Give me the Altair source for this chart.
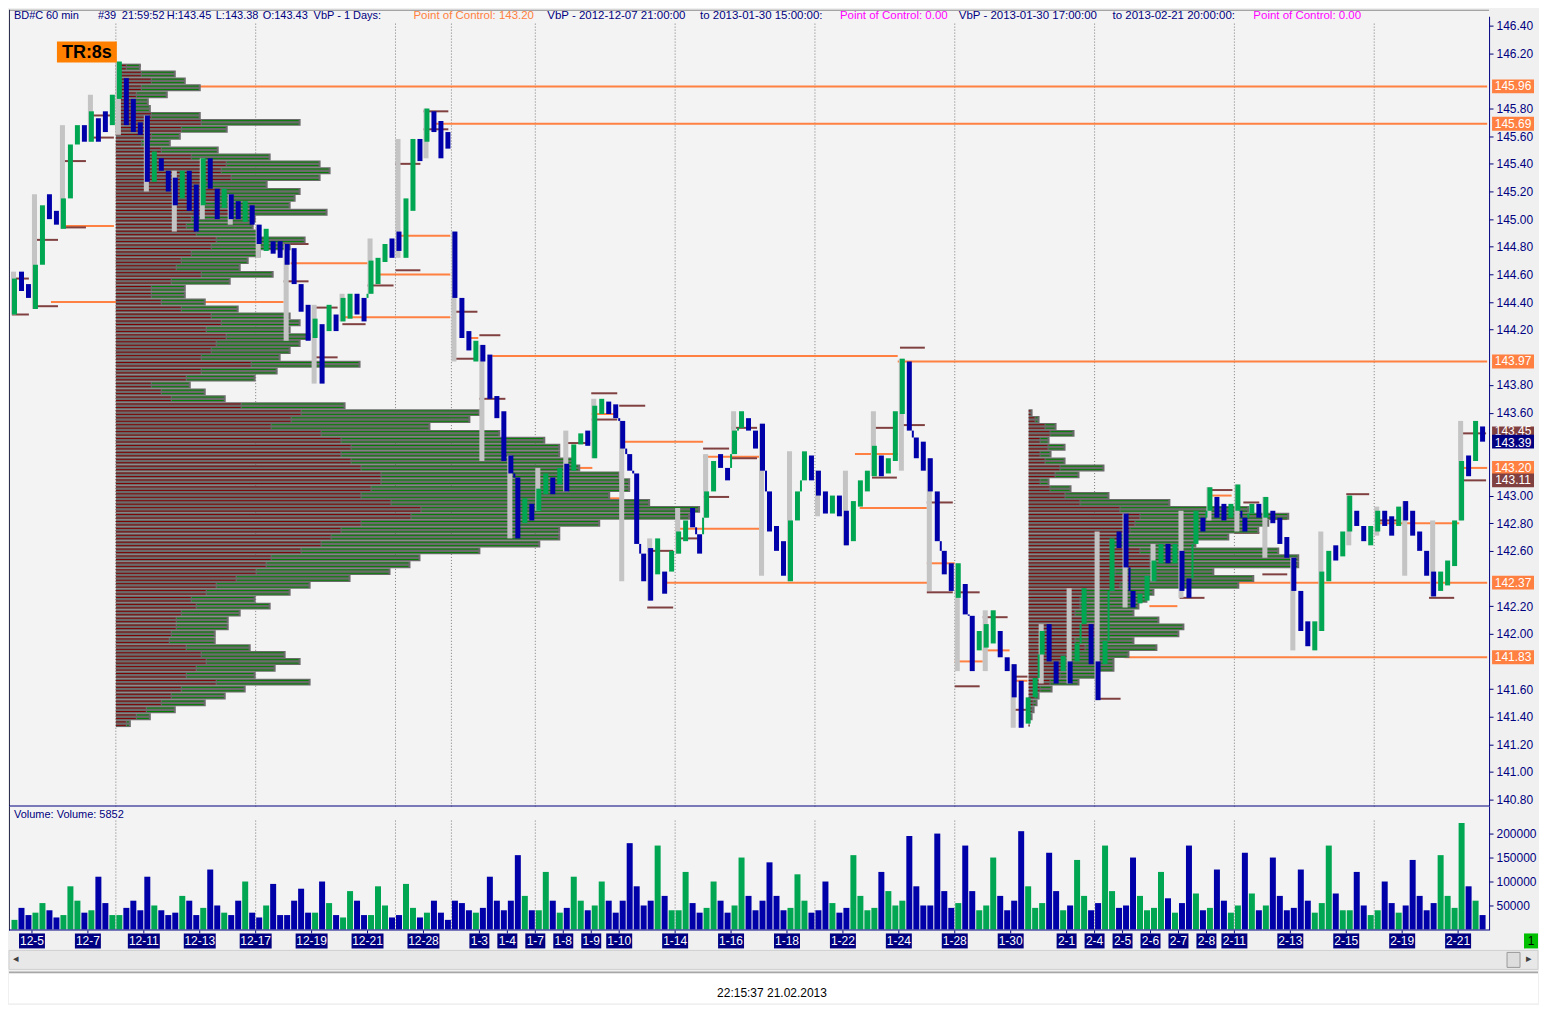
import altair as alt
import pandas as pd

FONT = "Liberation Sans"
NAVY = "#000080"
UPC = "#00A651"
DNC = "#0000A8"
ORANGE = "#FF8040"
BROWN = "#804040"
PROF_GRAY = "#6B6B6B"
PROF_RED = "#800000"
PROF_GREEN = "#008000"
MINI_GRAY = "#C4C4C4"
MAGENTA = "#FF00FF"

# ------------------------------------------------------------------ data
# price path, quarter-day slots (slot k centred on day index -0.625 + 0.25 k)
slot_high = [
    144.57, 144.62, 144.53, 144.67, 145.10, 145.18, 145.06, 145.15, 145.54, 145.68,
    145.68, 145.78, 145.73, 145.78, 145.90, 146.14, 146.02, 145.87, 145.70, 145.75,
    145.49, 145.44, 145.35, 145.30, 145.35, 145.35, 145.25, 145.44, 145.44, 145.22,
    145.22, 145.18, 145.13, 145.13, 145.10, 144.96, 144.93, 144.84, 144.84, 144.82,
    144.79, 144.53, 144.38, 144.28, 144.24, 144.38, 144.31, 144.43, 144.46, 144.46,
    144.43, 144.70, 144.72, 144.82, 144.86, 144.91, 145.15, 145.58, 145.58, 145.80,
    145.78, 145.71, 145.63, 144.91, 144.43, 144.19, 144.12, 144.09, 144.02, 143.72,
    143.61, 143.29, 143.13, 142.98, 142.94, 143.05, 143.16, 143.13, 143.20, 143.23,
    143.37, 143.45, 143.47, 143.65, 143.70, 143.68, 143.66, 143.54, 143.30, 143.16,
    142.58, 142.62, 142.69, 142.45, 142.60, 142.74, 142.82, 142.91, 142.72, 143.03,
    143.25, 143.30, 143.20, 143.47, 143.61, 143.56, 143.47, 143.52, 143.03, 142.78,
    142.67, 142.82, 143.03, 143.32, 143.29, 143.18, 143.03, 143.00, 143.00, 142.89,
    142.96, 143.11, 143.18, 143.36, 143.29, 143.27, 143.61, 143.99, 143.97, 143.42,
    143.39, 143.27, 143.03, 142.60, 142.51, 142.51, 142.36, 142.13, 142.02, 142.07,
    142.17, 142.02, 141.83, 141.78, 141.66, 141.54, 141.68, 142.02, 142.07, 141.80,
    141.84, 141.80, 141.93, 142.33, 142.07, 141.80, 141.95, 142.69, 142.74, 142.87,
    142.31, 142.29, 142.42, 142.53, 142.65, 142.65, 142.65, 142.60, 142.40, 142.89,
    142.84, 143.06, 142.99, 142.94, 142.94, 143.08, 142.84, 142.94, 142.94, 142.99,
    142.89, 142.84, 142.70, 142.55, 142.31, 142.09, 142.09, 142.45, 142.60, 142.64,
    142.74, 143.00, 142.89, 142.78, 142.78, 142.89, 142.89, 142.85, 142.92, 142.96,
    142.89, 142.74, 142.60, 142.45, 142.45, 142.53, 142.82, 143.25, 143.29, 143.54,
    143.50,
]
slot_low = [
    144.31, 144.48, 144.43, 144.35, 144.67, 145.00, 144.96, 144.93, 145.15, 145.54,
    145.56, 145.56, 145.56, 145.63, 145.68, 145.87, 145.68, 145.63, 145.61, 145.27,
    145.27, 145.35, 145.20, 145.10, 145.15, 145.06, 144.91, 145.10, 145.22, 145.00,
    145.08, 145.00, 145.00, 144.98, 144.96, 144.82, 144.77, 144.75, 144.72, 144.67,
    144.53, 144.33, 144.12, 144.14, 143.81, 144.19, 144.19, 144.26, 144.28, 144.31,
    144.26, 144.46, 144.53, 144.69, 144.72, 144.77, 144.72, 145.06, 145.42, 145.56,
    145.63, 145.44, 145.51, 144.43, 144.14, 144.05, 143.97, 143.97, 143.70, 143.56,
    143.25, 143.16, 142.69, 142.80, 142.82, 142.89, 143.01, 143.01, 143.08, 143.03,
    143.18, 143.37, 143.36, 143.27, 143.59, 143.59, 143.56, 143.34, 143.18, 142.65,
    142.38, 142.24, 142.43, 142.29, 142.45, 142.58, 142.67, 142.77, 142.58, 142.84,
    143.03, 143.20, 143.11, 143.30, 143.49, 143.47, 143.34, 143.18, 142.74, 142.60,
    142.42, 142.38, 142.82, 143.11, 143.11, 143.00, 142.87, 142.87, 142.85, 142.64,
    142.67, 142.92, 143.03, 143.14, 143.14, 143.16, 143.25, 143.59, 143.47, 143.27,
    143.18, 143.03, 142.67, 142.43, 142.31, 142.26, 142.14, 141.73, 141.88, 141.90,
    141.93, 141.83, 141.73, 141.54, 141.32, 141.35, 141.54, 141.85, 141.80, 141.64,
    141.73, 141.64, 141.80, 142.07, 141.78, 141.52, 141.78, 142.31, 142.62, 142.48,
    142.19, 142.22, 142.24, 142.38, 142.51, 142.51, 142.51, 142.31, 142.26, 142.65,
    142.74, 142.89, 142.84, 142.82, 142.84, 142.89, 142.74, 142.87, 142.84, 142.84,
    142.80, 142.65, 142.55, 142.31, 142.02, 141.91, 141.88, 142.02, 142.38, 142.53,
    142.56, 142.74, 142.78, 142.67, 142.64, 142.74, 142.78, 142.71, 142.78, 142.82,
    142.71, 142.60, 142.42, 142.27, 142.31, 142.35, 142.49, 142.82, 143.14, 143.25,
    143.39,
]
slot_dir = (
    "udduudduuu" "dudduudddd" "uddduddudd" "uddudduddd" "dddududuud"
    "duuudduudu" "dddddduddd" "ddduduudud" "uuduuddddd" "dduduuuddu"
    "udduuddddd" "duuudddudd" "uuuuduuudd" "dddddudduu" "udddduuudd"
    "uduudduudd" "duuuududdu" "dudduududu" "dddddduuud" "uudduuddud"
    "dddduuuudu" "d"
)
# slot that opens with a price gap (new year session) - no connector drawn
gap_slots = [63]
# hourly volume aggregated per slot, thousands of contracts
slot_volume_k = [
    20, 45, 30,
    35, 55, 40, 25,   30, 90, 60, 35,   40, 110, 55, 30,   30, 45, 60, 40,
    110, 50, 40, 30,  35, 70, 60, 30,   45, 125, 50, 35,   30, 60, 100, 35,
    25, 50, 95, 30,   30, 60, 85, 35,   35, 100, 55, 30,   25, 80, 60, 30,
    30, 90, 50, 25,   30, 95, 45, 25,   35, 60, 35, 20,   60, 55, 40, 35,
    45, 110, 60, 40,  60, 155, 70, 40,  40, 120, 60, 35,  45, 110, 60, 40,
    50, 100, 60, 35,  60, 180, 90, 50,  60, 175, 70, 40,  40, 120, 55, 35,
    45, 100, 60, 35,  50, 150, 70, 40,  60, 140, 70, 40,  45, 115, 60, 35,
    40, 100, 55, 35,  45, 155, 70, 40,  45, 120, 80, 50,  60, 195, 90, 50,
    50, 200, 80, 45,  55, 175, 80, 40,  50, 150, 70, 40,  60, 205, 90, 45,
    55, 160, 80, 40,  50, 145, 70, 40,  55, 175, 80, 45,  50, 150, 70, 40,
    45, 120, 65, 35,  55, 175, 75, 40,  45, 125, 60, 35,  50, 160, 75, 40,
    50, 150, 70, 40,  45, 125, 60, 35,  55, 175, 75, 40,  40, 120, 50, 30,
    40, 100, 55, 35,  50, 145, 70, 40,  55, 155, 70, 45,  222, 90, 60, 30,
]

# volume profile 1 (from 2012-12-07 21:00), rows of 0.05
profile1_levels = [
    146.10, 146.05, 146.00, 145.95, 145.90, 145.85, 145.80, 145.75, 145.70, 145.65,
    145.60, 145.55, 145.50, 145.45, 145.40, 145.35, 145.30, 145.25, 145.20, 145.15,
    145.10, 145.05, 145.00, 144.95, 144.90, 144.85, 144.80, 144.75, 144.70, 144.65,
    144.60, 144.55, 144.50, 144.45, 144.40, 144.35, 144.30, 144.25, 144.20, 144.15,
    144.10, 144.05, 144.00, 143.95, 143.90, 143.85, 143.80, 143.75, 143.70, 143.65,
    143.60, 143.55, 143.50, 143.45, 143.40, 143.35, 143.30, 143.25, 143.20, 143.15,
    143.10, 143.05, 143.00, 142.95, 142.90, 142.85, 142.80, 142.75, 142.70, 142.65,
    142.60, 142.55, 142.50, 142.45, 142.40, 142.35, 142.30, 142.25, 142.20, 142.15,
    142.10, 142.05, 142.00, 141.95, 141.90, 141.85, 141.80, 141.75, 141.70, 141.65,
    141.60, 141.55, 141.50, 141.45, 141.40, 141.35,
]
profile1_volume = [
    25, 60, 70, 85, 52, 33, 35, 85, 185, 112,
    65, 55, 103, 155, 205, 215, 205, 152, 185, 180,
    175, 212, 140, 138, 145, 190, 175, 145, 133, 125,
    158, 115, 70, 70, 90, 123, 175, 185, 175, 195,
    185, 175, 165, 245, 162, 140, 75, 90, 110, 230,
    365, 355, 315, 385, 430, 445, 445, 460, 465, 505,
    515, 515, 495, 535, 585, 575, 485, 445, 445, 425,
    365, 305, 295, 275, 235, 195, 175, 140, 155, 125,
    113, 113, 100, 100, 135, 170, 185, 160, 140, 195,
    130, 110, 90, 60, 35, 15,
]
profile1_down = [
    10, 25, 35, 25, 20, 15, 15, 35, 85, 65,
    35, 25, 45, 75, 110, 105, 115, 85, 105, 100,
    85, 115, 75, 70, 80, 100, 95, 75, 65, 60,
    85, 55, 35, 35, 45, 65, 95, 105, 90, 110,
    100, 95, 85, 135, 85, 70, 35, 45, 55, 125,
    185, 175, 155, 205, 225, 235, 225, 235, 245, 265,
    265, 255, 245, 275, 305, 295, 245, 225, 215, 205,
    185, 155, 150, 140, 120, 100, 90, 75, 80, 65,
    60, 60, 55, 53, 70, 85, 90, 80, 70, 100,
    65, 55, 45, 30, 20, 10,
]
# volume profile 2 (from 2013-01-30 17:00)
profile2_levels = [
    143.60, 143.55, 143.50, 143.45, 143.40, 143.35, 143.30, 143.25, 143.20, 143.15,
    143.10, 143.05, 143.00, 142.95, 142.90, 142.85, 142.80, 142.75, 142.70, 142.65,
    142.60, 142.55, 142.50, 142.45, 142.40, 142.35, 142.30, 142.25, 142.20, 142.15,
    142.10, 142.05, 142.00, 141.95, 141.90, 141.85, 141.80, 141.75, 141.70, 141.65,
    141.60, 141.55, 141.50, 141.45, 141.40, 141.35,
]
profile2_volume = [
    4, 11, 28, 46, 21, 37, 23, 37, 76, 51,
    21, 43, 81, 142, 221, 261, 241, 231, 201, 168,
    251, 271, 271, 186, 226, 211, 126, 119, 111, 106,
    131, 156, 151, 106, 129, 101, 86, 86, 71, 51,
    24, 11, 9, 6, 4, 1,
]
profile2_down = [
    2, 6, 16, 21, 11, 19, 11, 16, 31, 26,
    11, 21, 36, 51, 91, 111, 106, 101, 91, 81,
    111, 121, 121, 86, 101, 91, 56, 51, 51, 46,
    56, 66, 66, 46, 56, 41, 36, 36, 31, 21,
    11, 6, 4, 3, 2, 1,
]

# point-of-control lines: price, from day, to day
poc_price = [145.96, 145.69, 143.97, 144.01, 142.37, 142.37, 141.83, 143.20, 144.95, 144.40,
             144.68, 144.88, 144.60, 144.29, 143.39, 143.59, 143.20, 142.98, 143.28, 142.76,
             143.30, 142.91, 142.51, 141.80, 141.88, 141.66, 142.20, 143.00, 142.80, 144.14]
poc_from = [3.00, 14.36, 30.96, 16.46, 22.64, 42.93, 39.07, 51.14, 1.11, 0.68,
            9.25, 13.07, 12.36, 11.14, 21.04, 20.00, 19.14, 20.32, 24.00, 23.00,
            29.43, 29.60, 32.00, 33.00, 34.00, 35.07, 39.96, 42.20, 48.20, 15.57]
poc_to = [52.04, 52.04, 52.04, 30.96, 32.04, 52.04, 52.04, 52.04, 2.93, 9.00,
          12.00, 14.96, 14.96, 14.96, 24.00, 20.93, 20.04, 21.04, 26.04, 26.04,
          30.96, 32.00, 33.00, 34.00, 34.96, 35.60, 40.96, 42.90, 51.04, 15.96]

# value-area lines: price, from day, to day
va_price = [144.57, 144.31, 144.37, 144.85, 145.42, 144.94, 145.75, 145.59, 146.11, 145.78,
            145.65, 145.40, 144.63, 144.52, 144.24, 144.36, 144.00, 144.55, 144.82, 144.97,
            144.33, 143.99, 144.16, 143.70, 143.74, 143.55, 143.65, 143.38, 143.03, 142.60,
            142.19, 142.69, 143.34, 142.99, 143.49, 143.27, 144.07, 143.51, 143.49, 143.13,
            142.95, 142.30, 142.30, 141.62, 142.12, 141.69, 141.45, 141.53, 143.04, 142.73,
            142.95, 142.43, 142.83, 142.26, 143.01, 142.82, 142.26, 143.11, 143.45]
va_from = [-0.72, -0.72, 0.07, 0.04, 1.04, 1.04, 2.11, 2.11, 3.00, 14.00,
           14.00, 13.00, 13.00, 12.00, 11.10, 10.04, 10.04, 9.00, 9.00, 7.00,
           15.04, 15.04, 16.00, 16.00, 20.00, 20.00, 21.00, 19.14, 19.00, 22.00,
           22.00, 23.00, 24.00, 24.00, 25.00, 25.00, 31.04, 31.04, 30.04, 30.04,
           32.00, 32.00, 33.00, 33.00, 34.00, 35.04, 35.04, 38.07, 42.18, 43.00,
           43.32, 44.00, 44.25, 41.04, 47.00, 48.00, 49.96, 51.04, 51.04]
va_to = [-0.11, -0.11, 0.93, 0.93, 1.93, 1.93, 2.93, 2.93, 3.89, 14.89,
         14.89, 13.89, 13.89, 12.93, 11.93, 10.93, 10.93, 9.89, 9.89, 7.93,
         15.93, 15.93, 16.75, 16.93, 20.93, 20.93, 21.93, 19.96, 19.93, 22.93,
         22.93, 23.79, 24.93, 24.93, 25.93, 25.93, 31.93, 31.93, 30.93, 30.93,
         32.93, 32.93, 33.89, 33.89, 34.89, 35.60, 35.60, 38.93, 42.93, 43.89,
         43.89, 44.89, 44.89, 41.93, 47.82, 48.89, 50.86, 52.00, 52.00]

# price tags on the right axis
poc_tags = [145.96, 145.69, 143.97, 143.20, 142.37, 141.83]
va_high_tags = [143.45]
va_low_tags = [143.11]
last_tags = [143.39]

# axis labels that stay visible (the others sit under the price tags)
price_ticks = [140.8, 141.0, 141.2, 141.4, 141.6, 142.0, 142.2, 142.6, 142.8, 143.0,
               143.6, 143.8, 144.2, 144.4, 144.6, 144.8, 145.0, 145.2, 145.4, 145.6,
               145.8, 146.2, 146.4]
volume_ticks = [50000, 100000, 150000, 200000]

date_labels = ["12-5", "12-7", "12-11", "12-13", "12-17", "12-19", "12-21", "12-28",
               "1-3", "1-4", "1-7", "1-8", "1-9", "1-10", "1-14", "1-16", "1-18", "1-22",
               "1-24", "1-28", "1-30", "2-1", "2-4", "2-5", "2-6", "2-7", "2-8", "2-11",
               "2-13", "2-15", "2-19", "2-21"]
date_pos = [0, 2, 4, 6, 8, 10, 12, 14, 16, 17, 18, 19, 20, 21, 23, 25, 27, 29, 31, 33,
            35, 37, 38, 39, 40, 41, 42, 43, 45, 47, 49, 51]
week_lines = [3, 8, 13, 15, 18, 23, 28, 33, 38, 43, 48]

# ------------------------------------------------------------------ layout
W, H1, H2, H3 = 1482, 798, 124, 73
X_DOMAIN = [-0.8214, 52.1071]
P_DOMAIN = [140.7496, 146.5156]
V_DOMAIN = [-2083, 256250]
UNITS_PER_DAY = 28.0
P1_START = 3.0
P2_START = 35.64

xs = alt.Scale(domain=X_DOMAIN, nice=False, zero=False)
ps = alt.Scale(domain=P_DOMAIN, nice=False, zero=False)
vs = alt.Scale(domain=V_DOMAIN, nice=False, zero=False)
ONE = pd.DataFrame({"k": [0]})

axis_style = dict(orient="right", labelColor=NAVY, domain=False, tickColor=NAVY,
                  tickSize=4, labelPadding=3, labelFont=FONT, labelFontSize=12,
                  grid=False, title=None, labelOverlap=False, zindex=0)
PAX = alt.Axis(values=price_ticks, format=".2f", **axis_style)
VAX = alt.Axis(values=volume_ticks, format="d", **axis_style)


def PY(field):
    return alt.Y(field, scale=ps, axis=PAX)


def XD(field):
    return alt.X(field, scale=xs, axis=None)


def txt(s, x, y, color, size=11, weight="normal", align="left"):
    return alt.Chart(ONE).mark_text(
        text=s, font=FONT, fontSize=size, fontWeight=weight, color=color,
        align=align, baseline="middle"
    ).encode(x=alt.value(x), y=alt.value(y))


def box(x0, x1, y0, y1, fill, stroke=None):
    kw = {"fill": fill}
    if stroke:
        kw.update(stroke=stroke, strokeWidth=1)
    else:
        kw.update(strokeWidth=0)
    return alt.Chart(ONE).mark_rect(**kw).encode(
        x=alt.value(x0), x2=alt.value(x1), y=alt.value(y0), y2=alt.value(y1))


n = min(len(slot_high), len(slot_low), len(slot_dir), len(slot_volume_k))
slots = pd.DataFrame({
    "k": list(range(n)),
    "hi": slot_high[:n],
    "lo": slot_low[:n],
    "dir": list(slot_dir[:n]),
    "vol": [v * 1000 for v in slot_volume_k[:n]],
})
slots["t"] = -0.625 + 0.25 * slots["k"]
slots["day"] = (slots["k"] - 3) // 4
mini = slots.groupby("day").agg(hi=("hi", "max"), lo=("lo", "min")).reset_index()
mini["x0"] = mini["day"].astype(float).clip(lower=-0.75)
mini["x1"] = mini["x0"] + 0.18

# thin joins between consecutive slots whose ranges do not touch
joins = []
for k in range(1, n):
    if k in gap_slots:
        continue
    ph, pl = slots.at[k - 1, "hi"], slots.at[k - 1, "lo"]
    h, l = slots.at[k, "hi"], slots.at[k, "lo"]
    if l > ph:
        joins.append({"t": slots.at[k, "t"] - 0.125, "a": ph, "b": l, "dir": slots.at[k, "dir"]})
    elif h < pl:
        joins.append({"t": slots.at[k, "t"] - 0.125, "a": h, "b": pl, "dir": slots.at[k, "dir"]})
joins = pd.DataFrame(joins, columns=["t", "a", "b", "dir"])

dir_color = alt.Color("dir:N", scale=alt.Scale(domain=["u", "d"], range=[UPC, DNC]), legend=None)


def profile_layers(levels, vol, down, start):
    m = min(len(levels), len(vol), len(down))
    df = pd.DataFrame({"p": levels[:m], "v": vol[:m], "r": down[:m]})
    df["x0"] = start
    df["x1"] = start + df["v"] / UNITS_PER_DAY
    df["xr"] = start + df["r"] / UNITS_PER_DAY
    df["xg0"] = start + (df["r"] + 1) / UNITS_PER_DAY
    df["xg"] = start + (df["v"] - 2).clip(lower=0) / UNITS_PER_DAY
    df["top"] = df["p"] + 0.025
    df["bot"] = df["p"] - 0.025
    lines = pd.concat([df.assign(yl=df["p"] + 0.0125), df.assign(yl=df["p"] - 0.0125)])
    bars = alt.Chart(df).mark_rect(fill=PROF_GRAY, strokeWidth=0).encode(
        x=XD("x0:Q"), x2="x1:Q", y=PY("bot:Q"), y2="top:Q")
    red = alt.Chart(lines).mark_rule(color=PROF_RED, strokeWidth=1).encode(
        x=XD("x0:Q"), x2="xr:Q", y=PY("yl:Q"))
    gl = lines[lines["xg"] > lines["xg0"]]
    green = alt.Chart(gl).mark_rule(color=PROF_GREEN, strokeWidth=1).encode(
        x=XD("xg0:Q"), x2="xg:Q", y=PY("yl:Q"))
    return [bars, red, green]


def hlines(prices, x0, x1, color, width):
    m = min(len(prices), len(x0), len(x1))
    df = pd.DataFrame({"p": prices[:m], "a": x0[:m], "b": x1[:m]})
    return alt.Chart(df).mark_rule(color=color, strokeWidth=width).encode(
        x=XD("a:Q"), x2="b:Q", y=PY("p:Q"))


grid_df = pd.DataFrame({"d": week_lines})


def grid(top, bottom):
    return alt.Chart(grid_df).mark_rule(color="#7A7A7A", strokeWidth=1, strokeDash=[1, 2]).encode(
        x=XD("d:Q"), y=alt.value(top), y2=alt.value(bottom))


def tag_layers(prices, fill, dy=0):
    df = pd.DataFrame({"p": prices})
    df["lab"] = df["p"].map(lambda v: f"{v:.2f}")
    df["y0"] = df["p"] - 0.05
    df["y1"] = df["p"] + 0.05
    r = alt.Chart(df).mark_rect(fill=fill, strokeWidth=0).encode(
        x=alt.value(W + 3), x2=alt.value(W + 45), y=PY("y0:Q"), y2="y1:Q")
    t = alt.Chart(df).mark_text(font=FONT, fontSize=12, color="white", dy=dy,
                                align="center", baseline="middle").encode(
        x=alt.value(W + 24), y=PY("p:Q"), text="lab:N")
    return [r, t]


# ---------------- price panel
candles = alt.Chart(slots).mark_rule(strokeWidth=5).encode(
    x=XD("t:Q"), y=PY("lo:Q"), y2="hi:Q", color=dir_color)
join_marks = alt.Chart(joins).mark_rule(strokeWidth=2).encode(
    x=XD("t:Q"), y=PY("a:Q"), y2="b:Q", color=dir_color)
mini_prof = alt.Chart(mini).mark_rect(fill=MINI_GRAY, strokeWidth=0).encode(
    x=XD("x0:Q"), x2="x1:Q", y=PY("lo:Q"), y2="hi:Q")

HY = 6
header = [
    txt("BD#C", 5, HY, NAVY), txt("60 min", 37, HY, NAVY), txt("#39", 89, HY, NAVY),
    txt("21:59:52", 113, HY, NAVY), txt("H:143.45", 158, HY, NAVY),
    txt("L:143.38", 207, HY, NAVY), txt("O:143.43", 254, HY, NAVY),
    txt("VbP - 1 Days:", 305, HY, NAVY),
    txt("Point of Control: 143.20", 405, HY, ORANGE, size=11.5),
    txt("VbP - 2012-12-07  21:00:00", 539, HY, NAVY, size=11.5),
    txt("to 2013-01-30  15:00:00:", 692, HY, NAVY, size=11.5),
    txt("Point of Control: 0.00", 832, HY, MAGENTA, size=11.5),
    txt("VbP - 2013-01-30  17:00:00", 951, HY, NAVY, size=11.5),
    txt("to 2013-02-21  20:00:00:", 1105, HY, NAVY, size=11.5),
    txt("Point of Control: 0.00", 1246, HY, MAGENTA, size=11.5),
]

price_panel = alt.layer(
    box(0, W, 0, 1, "#8A8A8A"),
    box(0, 1, 0, H1, "#303050"),
    grid(14, H1),
    hlines(poc_price, poc_from, poc_to, ORANGE, 2),
    hlines(va_price, va_from, va_to, BROWN, 2),
    *profile_layers(profile1_levels, profile1_volume, profile1_down, P1_START),
    *profile_layers(profile2_levels, profile2_volume, profile2_down, P2_START),
    mini_prof,
    join_marks,
    candles,
    box(W, W + 1, 7, H1, NAVY),
    *tag_layers(poc_tags, ORANGE),
    *tag_layers(va_low_tags, BROWN),
    *tag_layers(va_high_tags, BROWN, dy=-2.5),
    *tag_layers(last_tags, NAVY, dy=1),
    *header,
    box(48, 108, 32, 53, "#FF8000"),
    txt("TR:8s", 78, 43, "black", size=18, weight="bold", align="center"),
    box(0, W, H1 - 1, H1, NAVY),
).properties(width=W, height=H1,
             view=alt.ViewBackground(fill="#F3F3F3", stroke="transparent"))

# ---------------- volume panel
vbars = alt.Chart(slots).mark_rule(strokeWidth=6).encode(
    x=XD("t:Q"),
    y=alt.Y("vol:Q", scale=vs, axis=VAX),
    y2=alt.datum(0),
    color=dir_color,
)
volume_panel = alt.layer(
    box(0, 1, 0, H2, "#303050"),
    grid(14, H2), vbars,
    txt("Volume:  Volume: 5852", 5, 8, NAVY),
    box(0, W, H2 - 1, H2, NAVY),
    box(W, W + 1, 0, H2, NAVY),
).properties(width=W, height=H2,
             view=alt.ViewBackground(fill="#F3F3F3", stroke="transparent"))

# ---------------- date strip / scrollbar / clock
dates = pd.DataFrame({"lab": date_labels, "d": date_pos})
dates["half"] = (6 * dates["lab"].str.len() + 2) / 2 / UNITS_PER_DAY
dates["a"] = dates["d"] - dates["half"]
dates["b"] = dates["d"] + dates["half"]
date_ticks = alt.Chart(dates).mark_rule(color=NAVY, strokeWidth=1).encode(
    x=XD("d:Q"), y=alt.value(0), y2=alt.value(3))
date_boxes = alt.Chart(dates).mark_rect(fill=NAVY, strokeWidth=0).encode(
    x=XD("a:Q"), x2="b:Q", y=alt.value(3), y2=alt.value(18))
date_text = alt.Chart(dates).mark_text(font=FONT, fontSize=12, color="white",
                                       align="center", baseline="middle").encode(
    x=XD("d:Q"), y=alt.value(11), text="lab:N")

bottom_panel = alt.layer(
    date_ticks, date_boxes, date_text,
    box(0, 1531, 20, 39, "#E8E8E8", "#CFCFCF"),
    txt("◂", 4, 29, "#404040", size=11),
    box(1500, 1513, 22, 37, "#DDDDDD", "#9A9A9A"),
    txt("▸", 1519, 29, "#404040", size=11),
    box(1517, 1531, 3, 18, "#00C000"),
    txt("1", 1524, 11, "black", size=12, align="center"),
    box(0, 1531, 41, 43, "#A8A8A8"),
    box(0, 1531, 43, 73, "white"),
    txt("22:15:37 21.02.2013", 764, 63, "black", size=12, align="center"),
).properties(width=W, height=H3,
             view=alt.ViewBackground(fill="transparent", stroke="transparent"))

chart = alt.vconcat(price_panel, volume_panel, bottom_panel, spacing=0, bounds="flush").properties(
    background="#F0F0F0",
    padding={"left": 0, "right": 0, "top": 0, "bottom": 0},
)

chart.save("out.html", embed_options={"renderer": "svg", "actions": False})
